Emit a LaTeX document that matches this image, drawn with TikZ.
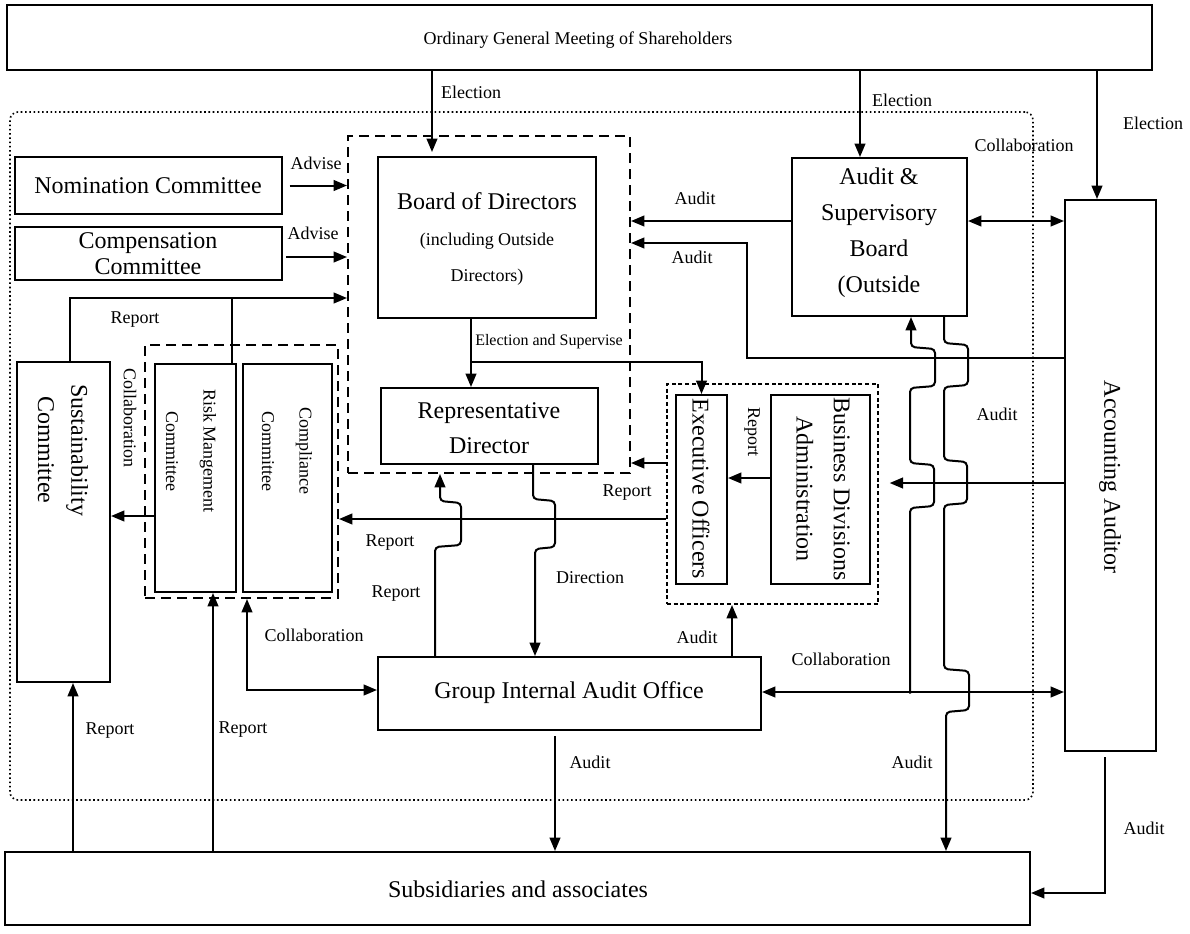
\documentclass[tikz,border=0pt]{standalone}
\usepackage{fontspec}
\setmainfont{Liberation Serif}
\usetikzlibrary{arrows.meta,fit}
\begin{document}
\begin{tikzpicture}[x=0.75pt,y=-0.75pt,
  box/.style={draw,line width=1.5pt,inner sep=0pt},
  grpdash/.style={draw,line width=1.5pt,dash pattern=on 7.5pt off 4.5pt,inner sep=0pt},
  grpsmall/.style={draw,line width=1.5pt,dash pattern=on 3pt off 2pt,inner sep=0pt},
  grpdot/.style={draw,line width=1.2pt,dotted,rounded corners=6pt,inner sep=0pt},
  conn/.style={line width=1.5pt},
  arr/.style={conn,-{Triangle[length=10pt,width=8pt]}},
  darr/.style={conn,{Triangle[length=10pt,width=8pt]}-{Triangle[length=10pt,width=8pt]}},
  lbl/.style={inner sep=0pt,font=\fontsize{13.5}{16}\selectfont},
  big/.style={inner sep=0pt,align=center,font=\fontsize{18}{27}\selectfont},
  mid/.style={inner sep=0pt,align=center,font=\fontsize{13.5}{28}\selectfont}]
\useasboundingbox (0,0) rectangle (1190,933);

% groups
\node[grpdot,fit={(10,112)(1033,800)}] (outer) {};
\node[grpdash,fit={(348,136)(630,473)}] (bodgrp) {};
\node[grpdash,fit={(145,345)(338,598)}] (rcgrp) {};
\node[grpsmall,fit={(667,384)(878,604)}] (execgrp) {};

% boxes
\node[box,fit={(7,5)(1152,70)}] (ogm) {};
\node[box,fit={(378,157)(596,318)}] (bod) {};
\node[box,fit={(15,157)(282,214)}] (nom) {};
\node[box,fit={(15,227)(282,280)}] (comp) {};
\node[box,fit={(17,362)(110,682)}] (sust) {};
\node[box,fit={(155,364)(236,592)}] (risk) {};
\node[box,fit={(243,364)(332,592)}] (compl) {};
\node[box,fit={(381,388)(598,464)}] (rep) {};
\node[box,fit={(676,395)(727,584)}] (exec) {};
\node[box,fit={(771,395)(870,584)}] (biz) {};
\node[box,fit={(792,158)(967,316)}] (asb) {};
\node[box,fit={(1065,200)(1156,751)}] (acc) {};
\node[box,fit={(378,657)(761,730)}] (giao) {};
\node[box,fit={(5,852)(1030,925)}] (subs) {};

% texts inside boxes
\node[lbl] (ogmT) at (578,40) {Ordinary General Meeting of Shareholders};
\node[big,font=\fontsize{13.5}{27}\selectfont] (bodT) at (487,239) {{\fontsize{18}{27}\selectfont Board of Directors}\\(including Outside\\Directors)};
\node[big] (nomT) at (148,186) {Nomination Committee};
\node[big,font=\fontsize{18}{19.5}\selectfont] (compT) at (148,254) {Compensation\\Committee};
\node[big,font=\fontsize{18}{26}\selectfont] (repT) at (489,428) {Representative\\Director};
\node[big] (giaoT) at (569,693) {Group Internal Audit Office};
\node[big] (subsT) at (518,889) {Subsidiaries and associates};
\node[big,font=\fontsize{18}{25}\selectfont,rotate=-90] (sustT) at (63,450) {Sustainability\\Committee};
\node[mid,rotate=-90] (riskT) at (191,451) {Risk Mangement\\Committee};
\node[mid,rotate=-90] (complT) at (287,451) {Compliance\\Committee};
\node[big,rotate=-90] (execT) at (701,489) {Executive Officers};
\node[big,font=\fontsize{18}{28}\selectfont,rotate=-90] (bizT) at (823,489) {Business Divisions\\Administration};
\node[big] (asbT) at (879,233) {Audit \&\\Supervisory\\Board\\(Outside};
\node[big,rotate=-90] (accT) at (1110,477) {Accounting Auditor};

% elections
\draw[arr,shorten >=3pt] (432,0 |- ogm.south) -- (432,0 |- bod.north);
\draw[arr] (860,0 |- ogm.south) -- (860,0 |- asb.north);
\draw[arr] (1097,0 |- ogm.south) -- (1097,0 |- acc.north);
\node[lbl] (le1) at (471,92) {Election};
\node[lbl] (le2) at (902,100) {Election};
\node[lbl] (le3) at (1153,123) {Election};

% advise
\draw[arr,shorten <=5pt] (nom.east) -- (bodgrp.west |- nom.east);
\draw[arr,shorten <=3pt] (282,257) -- (bodgrp.west |- 0,257);
\node[lbl] (la1) at (316,163) {Advise};
\node[lbl] (la2) at (313,233) {Advise};

% report from sustainability / risk to board
\draw[arr] (70,0 |- sust.north) -- (70,298) -- (bodgrp.west |- 0,298);
\draw[conn] (232,0 |- risk.north) -- (232,298);
\node[lbl] (lr1) at (135,320) {Report};
\node[lbl,rotate=-90] (lcol1) at (130,418) {Collaboration};

% risk -> sustainability
\draw[arr] (risk.west |- 0,516) -- (sust.east |- 0,516);

% executive reports
\draw[arr] (execgrp.west |- 0,463) -- (bodgrp.east |- 0,463);
\draw[arr] (execgrp.west |- 0,519) -- (rcgrp.east |- 0,519);
\draw[arr] (biz.west |- 0,478) -- (exec.east |- 0,478);
\node[lbl] (lr2) at (627,493) {Report};
\node[lbl,rotate=-90] (lr3) at (752,432) {Report};
\node[lbl] (lr4) at (390,543) {Report};
\node[lbl] (lr5) at (396,594) {Report};

% election and supervise
\draw[arr] (471,0 |- bod.south) -- (471,0 |- rep.north);
\draw[arr] (471,362) -- (exec.north |- 0,362) -- (exec.north);
\node[lbl,font=\fontsize{12}{14}\selectfont,anchor=west] (les) at (475,342) {Election and Supervise};

% direction (with bridge)
\draw[arr,rounded corners=3pt] (533,0 |- rep.south) -- (533,499) -- (555,501) -- (555,547) -- (535,549) -- (535,0 |- giao.north);
\node[lbl] (ldir) at (590,578) {Direction};

% report GIAO -> board group (with bridge)
\draw[arr,rounded corners=3pt] (435,0 |- giao.north) -- (435,547) -- (461,545) -- (461,503) -- (440,501) -- (440,0 |- bodgrp.south);

% GIAO audit -> executive group
\draw[arr] (732,0 |- giao.north) -- (732,0 |- execgrp.south);
\node[lbl] (lau1) at (697,637) {Audit};

% GIAO <-> risk/compliance
\draw[darr] (giao.west |- 0,690) -- (247,690) -- (247,0 |- rcgrp.south);
\node[lbl] (lcol2) at (314,635) {Collaboration};

% GIAO <-> accounting auditor
\draw[darr] (giao.east |- 0,692) -- (acc.west |- 0,692);
\node[lbl] (lcol3) at (841,659) {Collaboration};

% GIAO -> subsidiaries
\draw[arr,shorten <=4pt] (555,0 |- giao.south) -- (555,0 |- subs.north);
\node[lbl] (lau2) at (590,762) {Audit};

% subsidiaries reports
\draw[arr] (73,0 |- subs.north) -- (73,0 |- sust.south);
\draw[arr] (213,0 |- subs.north) -- (213,0 |- risk.south);
\node[lbl] (lr6) at (110,731) {Report};
\node[lbl] (lr7) at (243,730) {Report};

% audit & supervisory board -> board group, <-> accounting
\draw[arr] (asb.west |- 0,221) -- (bodgrp.east |- 0,221);
\draw[darr] (asb.east |- 0,221) -- (acc.west |- 0,221);
\node[lbl] (lau3) at (695,198) {Audit};
\node[lbl] (lcol4) at (1024,145) {Collaboration};

% accounting -> board group
\draw[arr] (acc.west |- 0,358) -- (747,358) -- (747,243) -- (bodgrp.east |- 0,243);
\node[lbl] (lau4) at (692,257) {Audit};

% accounting -> executive group
\draw[arr,shorten >=8pt] (acc.west |- 0,483) -- (execgrp.east |- 0,483);

% collaboration line from GIAO line up to audit & supervisory board (bridges)
\draw[arr,rounded corners=3pt] (910,0 |- giao.east) -- (910,508) -- (934,506) -- (934,465) -- (910,463) -- (910,388) -- (935,386) -- (935,349) -- (911,347) -- (911,0 |- asb.south);

% audit from audit & supervisory board to subsidiaries (bridges)
\draw[arr,rounded corners=3pt] (944,0 |- asb.south) -- (944,343) -- (968,345) -- (968,385) -- (944,387) -- (944,460) -- (967,462) -- (967,503) -- (944,505) -- (944,669) -- (969,671) -- (969,710) -- (946,712) -- (946,0 |- subs.north);
\node[lbl] (lau5) at (997,414) {Audit};
\node[lbl] (lau6) at (912,762) {Audit};

% accounting -> subsidiaries
\draw[arr,shorten <=4pt] (1105,0 |- acc.south) -- (1105,893) -- (subs.east |- 0,893);
\node[lbl] (lau7) at (1144,828) {Audit};
\end{tikzpicture}
\end{document}
